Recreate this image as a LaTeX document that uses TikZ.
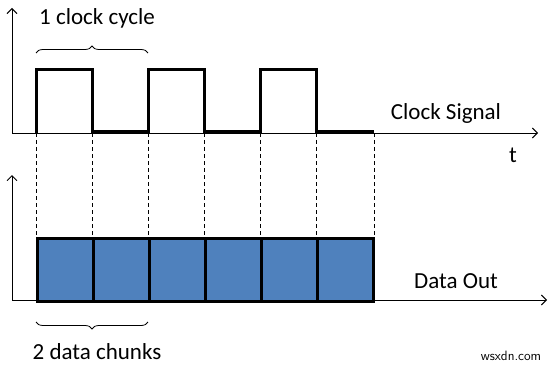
\documentclass[tikz,border=0pt]{standalone}
\usepackage{fontspec}
\setmainfont{Carlito}
\usetikzlibrary{decorations.pathreplacing,arrows.meta}
\definecolor{databLue}{HTML}{4F81BD}
\begin{document}
\begin{tikzpicture}[x=1pt,y=-1pt,
  axis/.style={line width=0.9pt,-{Straight Barb[length=5pt,width=10pt]}},
  clk/.style={line width=3pt,line join=miter,line cap=rect},
  guide/.style={line width=0.8pt,dash pattern=on 4pt off 3pt},
  cell/.style={draw=black,fill=databLue,line width=2.8pt,minimum width=56pt,minimum height=63pt,inner sep=0pt,anchor=north west},
  lbl/.style={font=\fontsize{23}{26}\selectfont,inner sep=0pt},
  bracestyle/.style={line width=0.8pt,decorate,decoration={brace,amplitude=7pt}}]
\useasboundingbox (0,0) rectangle (553,366);
% top axes
\coordinate (o1) at (12,133);
\coordinate (y1) at (12,8);
\coordinate (x1) at (538,133);
\draw[axis] (o1) -- (y1);
\draw[axis] (o1) -- (x1);
% clock
\draw[clk] (36,133) -- (36,70) -- (92,70) -- (92,132) -- (148,132) -- (148,70) -- (204,70) -- (204,132) -- (260,132) -- (260,70) -- (316,70) -- (316,132) -- (372,132);
% bottom axes
\coordinate (o2) at (12,300);
\coordinate (y2) at (12,175);
\coordinate (x2) at (547,300);
\draw[axis] (o2) -- (y2);
\draw[axis] (o2) -- (x2);
% data cells
\foreach \i in {0,...,5} {
  \node[cell] (c\i) at ({36+56*\i},237) {};
}
% dashed guides
\foreach \i in {0,...,5} {
  \draw[guide] (c\i.north west |- o1) -- (c\i.north west);
}
\draw[guide] (c5.north east |- o1) -- (c5.north east);
% braces
\draw[bracestyle] (36,53) -- (148,53);
\draw[bracestyle] (148,322) -- (36,322);
% labels
\node[lbl] (cyc) at (97,18) {1 clock cycle};
\node[lbl] (chunks) at (97,352) {2 data chunks};
\node[lbl] (cs) at (446,113) {Clock Signal};
\node[lbl] (t) at (513,155) {t};
\node[lbl] (dout) at (456,281) {Data Out};
\node[font=\fontsize{13.5}{16}\selectfont\sffamily,inner sep=0pt] (wm) at (511,356) {wsxdn.com};
\end{tikzpicture}
\end{document}
